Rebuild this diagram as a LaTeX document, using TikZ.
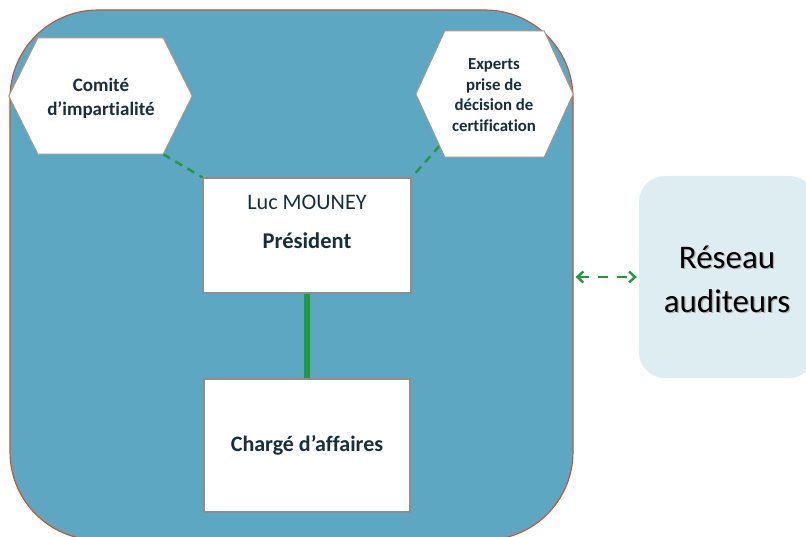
\documentclass[tikz,border=0pt]{standalone}
\usepackage{fontspec}
\setmainfont{Carlito}[Ligatures=NoCommon]
\usetikzlibrary{calc,arrows.meta}
\definecolor{bigfill}{RGB}{94,167,194}
\definecolor{bigline}{RGB}{197,83,43}
\definecolor{hexline}{RGB}{160,152,144}
\definecolor{boxline}{RGB}{142,142,142}
\definecolor{txtdark}{RGB}{23,46,60}
\definecolor{grn}{RGB}{31,154,63}
\definecolor{resfill}{RGB}{221,237,242}
\tikzset{
  orgbox/.style={draw=bigline, line width=1.1pt, fill=bigfill, rounded corners=88pt, inner sep=0pt},
  hexfr/.style={draw=hexline, line width=1pt, fill=white},
  whitebox/.style={draw=boxline, line width=1.3pt, fill=white, inner sep=0pt},
  dashgrn/.style={draw=grn, line width=2.4pt, dash pattern=on 8pt off 6pt},
  arrgrn/.style={draw=grn, line width=2.4pt, dash pattern=on 10pt off 9pt, {Straight Barb[length=6pt,width=11pt]}-{Straight Barb[length=6pt,width=11pt]}},
  resbox/.style={fill=resfill, rounded corners=26pt, inner sep=0pt},
  hexsp/.style={inner sep=0pt},
}
\begin{document}
\begin{tikzpicture}[x=1pt,y=-1pt]
\useasboundingbox (0,0) rectangle (806,537);
\begin{scope}
\clip (0,0) rectangle (806,537);
\node[orgbox, minimum width=563pt, minimum height=530pt] (org) at (291.5,275) {};
\node[resbox, minimum width=176pt, minimum height=202pt] (res) at (727,277) {};
\end{scope}
% hexagon frames (named placeholder nodes)
\node[hexsp, minimum width=183pt, minimum height=116pt] (cim) at (100.5,96) {};
\node[hexsp, minimum width=157pt, minimum height=126pt] (exp) at (494.5,94) {};
% president and charge boxes
\node[whitebox, minimum width=208pt, minimum height=115pt] (pres) at (307,235.5) {};
\node[whitebox, minimum width=206pt, minimum height=133pt, font=\fontsize{22}{26}\selectfont\bfseries, text=txtdark] (charge) at (307,445.5) {Chargé d’affaires};
% connectors
\coordinate (cimBR) at ($(cim.south east)+(-29,0)$);
\coordinate (expBL) at ($(exp.south west)+(29,0)$);
\coordinate (expP) at ($(exp.west)!0.82!(expBL)$);
\draw[dashgrn] (cimBR) -- (pres.north west);
\draw[dashgrn, shorten >=5pt] (expP) -- (pres.north east);
\draw[grn, line width=6pt] (pres.south) -- (charge.north);
\draw[arrgrn, shorten <=2pt, shorten >=2pt] (org.east |- res.west) -- (res.west);
% hexagons
\draw[hexfr] (cim.west) -- ($(cim.north west)+(29,0)$) -- ($(cim.north east)+(-29,0)$) -- (cim.east) -- (cimBR) -- ($(cim.south west)+(29,0)$) -- cycle;
\draw[hexfr] (exp.west) -- ($(exp.north west)+(29,0)$) -- ($(exp.north east)+(-29,0)$) -- (exp.east) -- ($(exp.south east)+(-29,0)$) -- (expBL) -- cycle;
\node[align=center, text=txtdark, font=\fontsize{19}{24}\selectfont\bfseries] (cimtext) at (101,98) {Comité\\d’impartialité};
\node[align=center, text=txtdark, font=\fontsize{16.8}{20.5}\selectfont\bfseries] (exptext) at (494,95) {Experts\\prise de\\décision de\\certification};
% president texts
\node[text=txtdark, font=\fontsize{22.2}{26}\selectfont] (presname) at (307,202) {Luc MOUNEY};
\node[text=txtdark, font=\fontsize{22.5}{26}\selectfont\bfseries] (prestitle) at (307,241) {Président};
% reseau text with shadow
\node[align=center, text=black!30, font=\fontsize{33}{44}\selectfont] (resshadow) at (728.3,280.3) {Réseau\\auditeurs};
\node[align=center, text=black, font=\fontsize{33}{44}\selectfont] (restext) at (727,279) {Réseau\\auditeurs};
\end{tikzpicture}
\end{document}
